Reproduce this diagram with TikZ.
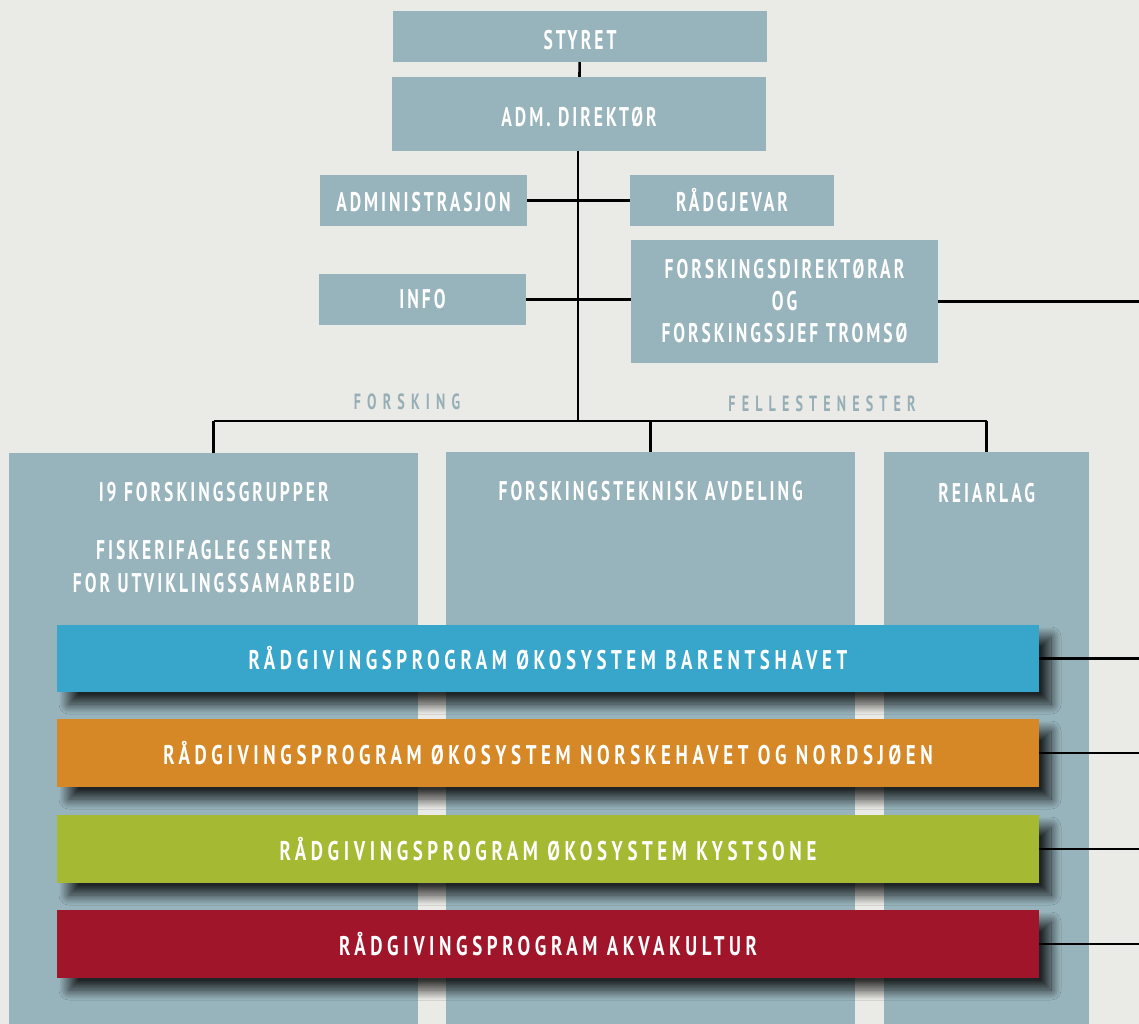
\documentclass[tikz,border=0pt]{standalone}
\usepackage{fontspec}
\newfontfamily\orgfont{PT Sans}[FakeStretch=0.65, LetterSpace=11]
\newfontfamily\progfont{PT Sans}[FakeStretch=0.70, LetterSpace=17]
\newfontfamily\groupfont{PT Sans}[FakeStretch=0.64, LetterSpace=28]
\usetikzlibrary{positioning,shadows.blur}
\definecolor{bg}{HTML}{EAEBE6}
\definecolor{boxgrey}{HTML}{97B3BB}
\definecolor{labelgrey}{HTML}{97AEB6}
\definecolor{progblue}{HTML}{38A5CB}
\definecolor{progorange}{HTML}{D58825}
\definecolor{proggreen}{HTML}{A5B932}
\definecolor{progred}{HTML}{A0152A}

\begin{document}
\begin{tikzpicture}[x=1pt,y=-1pt]
        % Define styles for nodes and lines
        \tikzstyle{unit} = [rectangle, fill=boxgrey, text=white, inner sep=0pt, align=center, font=\orgfont\bfseries\fontsize{27}{32}\selectfont]
        \tikzstyle{low} = [text height=26pt, text depth=0pt]
        \tikzstyle{dept} = [unit, anchor=north west]
        \tikzstyle{depttext} = [text=white, inner sep=0pt, align=center, anchor=north, font=\orgfont\bfseries\fontsize{27}{33}\selectfont]
        \tikzstyle{prog} = [rectangle, text=white, inner sep=0pt, minimum width=982pt, minimum height=68pt, font=\progfont\bfseries\fontsize{27}{30}\selectfont, blur shadow={shadow xshift=12pt, shadow yshift=-12pt, shadow blur radius=10pt, shadow blur steps=20, shadow opacity=80}]
        \tikzstyle{group} = [text=labelgrey, inner sep=0pt, font=\groupfont\bfseries\fontsize{22}{24}\selectfont]
        \tikzstyle{line} = [line width=2.6pt, black]

        % Background
        \fill[bg] (0,0) rectangle (1139,1024);
        \useasboundingbox (0,0) rectangle (1139,1024);

        % Top units
        \node[unit, low, minimum width=374pt, minimum height=51pt] (styret) at (580,36.5) {STYRET};
        \node[unit, low, minimum width=374pt, minimum height=74pt] (adm) at (579,114) {ADM. DIREKT\O R};
        \node[unit, text height=22pt, text depth=0pt, minimum width=207pt, minimum height=51pt] (admin) at (423.5,200.5) {ADMINISTRASJON};
        \node[unit, text height=22pt, text depth=0pt, minimum width=204pt, minimum height=51pt] (raad) at (732,200.5) {R\AA DGJEVAR};
        \node[unit, minimum width=207pt, minimum height=51pt] (info) at (422.5,299.5) {INFO};
        \node[unit, minimum width=307pt, minimum height=123pt] (fdir) at (784.5,301.5) {FORSKINGSDIREKT\O RAR\\OG\\FORSKINGSSJEF TROMS\O};

        % Group labels
        \node[group] (forsking) at (407,402) {FORSKING};
        \node[group] (felles) at (822,404) {FELLESTENESTER};

        % Departments
        \node[dept, minimum width=409pt, minimum height=571pt] (grupper) at (9,453) {};
        \node[dept, minimum width=409pt, minimum height=572pt] (teknisk) at (446,452) {};
        \node[dept, minimum width=205pt, minimum height=572pt] (reiarlag) at (884,452) {};
        \node[depttext, below=29pt of grupper.north] (gruppertext) {I9 FORSKINGSGRUPPER\\[25pt]FISKERIFAGLEG SENTER\\FOR UTVIKLINGSSAMARBEID};
        \node[depttext, below=29pt of teknisk.north] (teknisktext) {FORSKINGSTEKNISK AVDELING};
        \node[depttext, below=31pt of reiarlag.north] (reiarlagtext) {REIARLAG};

        % Advisory programmes
        \node[prog, fill=progblue, minimum height=67pt] (barents) at (548,658.5) {R\AA DGIVINGSPROGRAM \O KOSYSTEM BARENTSHAVET};
        \node[prog, fill=progorange] (norske) at (548,753) {R\AA DGIVINGSPROGRAM \O KOSYSTEM NORSKEHAVET OG NORDSJ\O EN};
        \node[prog, fill=proggreen] (kyst) at (548,849) {R\AA DGIVINGSPROGRAM \O KOSYSTEM KYSTSONE};
        \node[prog, fill=progred] (akva) at (548,944) {R\AA DGIVINGSPROGRAM AKVAKULTUR};

        % Coordinates
        \coordinate (trunk) at (578,421);
        \coordinate (edge) at (1139,0);

        % Lines
        \draw[line] (styret) -- (adm);
        \draw[line] (adm.south -| trunk) -- (trunk);
        \draw[line] (admin.east) -- (raad.west);
        \draw[line] (info.east) -- (info.east -| fdir.west);
        \draw[line] (fdir.east) -- (fdir.east -| edge);
        \draw[line] (grupper.north |- trunk) -- (reiarlag.north |- trunk);
        \draw[line] (grupper.north |- trunk) -- (grupper.north);
        \draw[line] (teknisk.north |- trunk) -- (teknisk.north);
        \draw[line] (reiarlag.north |- trunk) -- (reiarlag.north);
        \foreach \prog in {barents, norske, kyst, akva}
          \draw[line] (\prog.east) -- (\prog.east -| edge);
\end{tikzpicture}
\end{document}
